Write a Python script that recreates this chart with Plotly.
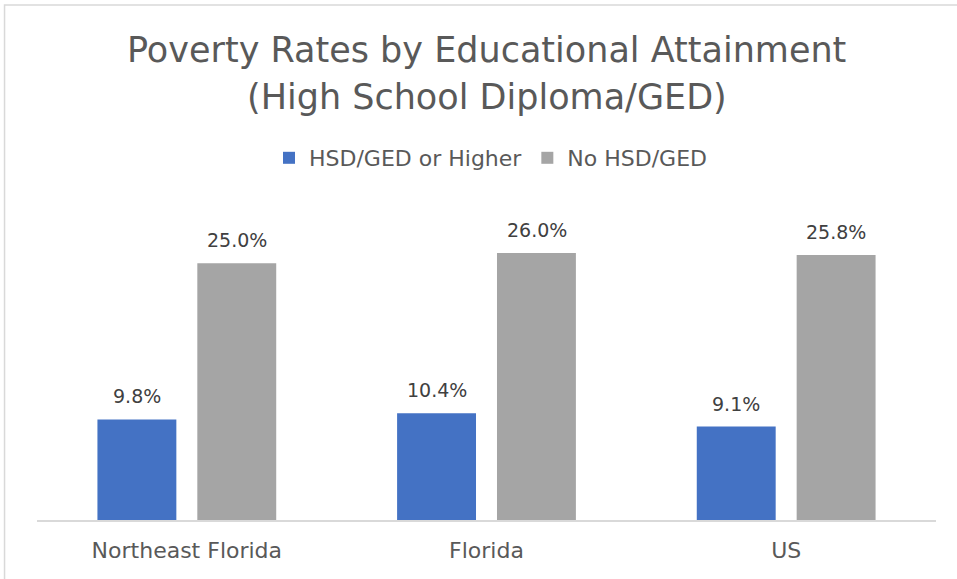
import plotly.graph_objects as go

categories = ["Northeast Florida", "Florida", "US"]
series_names = ["HSD/GED or Higher", "No HSD/GED"]
hsd_or_higher = [9.8, 10.4, 9.1]
no_hsd = [25.0, 26.0, 25.8]
title_lines = ["Poverty Rates by Educational Attainment", "(High School Diploma/GED)"]

FONT = "DejaVu Sans"
W, H = 957, 579
L, R, T, B = 36.5, 20.5, 212, 59
plot_h = H - T - B
plot_w = W - L - R

def py(pix):
    return (H - B - pix) / plot_h

def px(pix):
    return (pix - L) / plot_w

fig = go.Figure()
colors = ["#4472C4", "#A5A5A5"]
series = [hsd_or_higher, no_hsd]
for name, vals, col in zip(series_names, series, colors):
    fig.add_trace(go.Bar(
        x=categories, y=vals, name=name, marker=dict(color=col, line=dict(width=0)),
        hoverinfo="skip",
    ))

for si, vals in enumerate(series):
    for cat, v in zip(categories, vals):
        fig.add_annotation(x=cat, y=v, xref="x", yref="y", text=f"{v:.1f}%",
                           showarrow=False, xanchor="center", yanchor="middle",
                           xshift=-50 if si == 0 else 50, yshift=23,
                           font=dict(family=FONT, size=19, color="#404040"))

fig.update_layout(
    width=W, height=H,
    margin=dict(l=L, r=R, t=T, b=B, autoexpand=False),
    paper_bgcolor="white", plot_bgcolor="white",
    barmode="group", bargap=1 - 200 / 300, bargroupgap=0.21,
    font=dict(family=FONT, color="#595959"),
    showlegend=True,
    legend=dict(orientation="h", x=px(491), xanchor="center", y=py(158), yanchor="middle",
                font=dict(family=FONT, size=22, color="#595959"), itemwidth=30,
                traceorder="normal"),
    xaxis=dict(range=[-0.5, 2.5], showline=True, linecolor="#d9d9d9", linewidth=1.5,
               ticks="", ticklabelstandoff=10,
               tickfont=dict(family=FONT, size=22, color="#595959"), showgrid=False),
    yaxis=dict(range=[0, 30], visible=False, showgrid=False),
)

for i, (line, ypix) in enumerate(zip(title_lines, [50, 97])):
    fig.add_annotation(text=line, xref="paper", yref="paper", x=px(487), y=py(ypix),
                       xanchor="center", yanchor="middle", showarrow=False,
                       font=dict(family=FONT, size=35, color="#595959"))

fig.add_shape(type="rect", xref="paper", yref="paper",
              x0=px(4), x1=px(962), y0=py(584), y1=py(5),
              line=dict(color="#d9d9d9", width=1.5), fillcolor="rgba(0,0,0,0)", layer="below")

fig.write_html("out.html", config={"displayModeBar": False},
               post_script="document.body.style.margin='0px';")
